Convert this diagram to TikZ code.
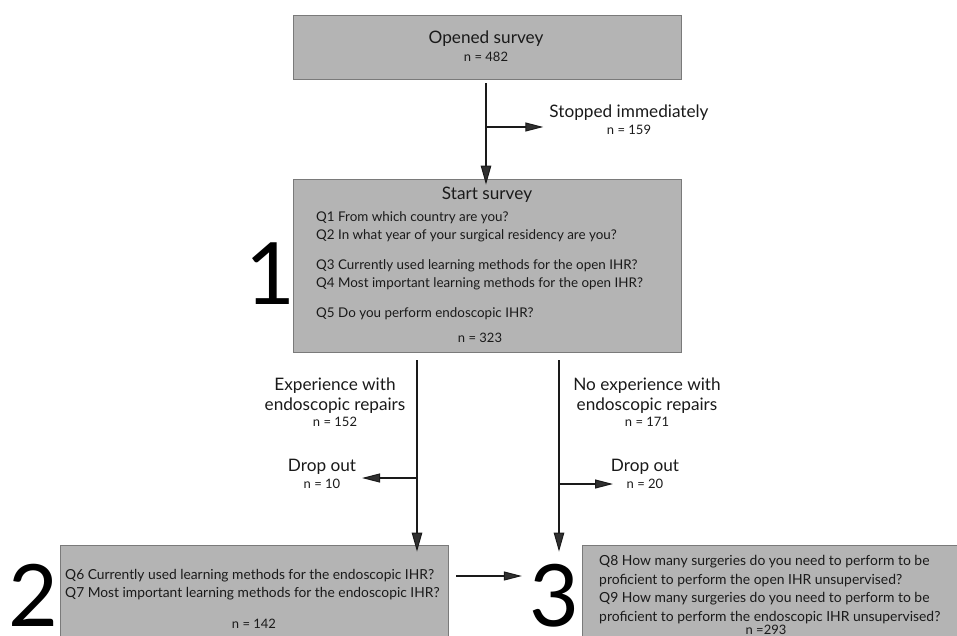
\documentclass[tikz,border=0pt]{standalone}
\usepackage{fontspec}
\setmainfont{Lato}
\usetikzlibrary{arrows.meta,calc}
\definecolor{boxgray}{HTML}{B4B4B4}
\definecolor{boxedge}{HTML}{7A7A7A}
\definecolor{inkc}{HTML}{1A1A1A}
\definecolor{headc}{HTML}{303030}
\tikzset{
  box/.style={draw=boxedge,fill=boxgray,line width=0.8pt,inner sep=0pt},
  arr/.style={draw=inkc,line width=2pt,-{Triangle[length=19pt,width=10.5pt,fill=headc,line width=1pt]}},
  sarr/.style={draw=inkc,line width=1.8pt,-{Triangle[length=18pt,width=9pt,fill=headc,line width=1pt]}},
  ttl/.style={font=\fontsize{17.2}{20}\selectfont,inner sep=0pt,text=inkc},
  num/.style={font=\fontsize{13}{15}\selectfont,inner sep=0pt,text=inkc},
  qtxt/.style={font=\fontsize{13.4}{18.5}\selectfont,inner sep=0pt,text=inkc,align=left,anchor=north west},
  big/.style={font=\fontsize{86}{86}\selectfont,inner sep=0pt,text=black,text depth=0pt},
}
\begin{document}
\begin{tikzpicture}[x=1pt,y=-1pt]
\useasboundingbox (0,0) rectangle (957,636);
\clip (0,0) rectangle (957,636);
% boxes
\node[box,minimum width=388pt,minimum height=64pt] (opened) at (487,47) {};
\node[box,minimum width=388pt,minimum height=173pt] (start) at (487,265.5) {};
\node[box,minimum width=388pt,minimum height=95pt] (b2) at (254,592.5) {};
\node[box,minimum width=380pt,minimum height=95pt] (b3) at (772,592.5) {};
% box texts
\node[ttl] (t1) at (486,39) {Opened survey};
\node[num] (n1) at (486,57) {n = 482};
\node[ttl] (t2) at (487,195) {Start survey};
\node[qtxt] (q1) at (316,211) {Q1 From which country are you?\\Q2 In what year of your surgical residency are you?};
\node[qtxt] (q3) at (316,259) {Q3 Currently used learning methods for the open IHR?\\Q4 Most important learning methods for the open IHR?};
\node[qtxt] (q5) at (316,307) {Q5 Do you perform endoscopic IHR?};
\node[num] (n2) at (480,338) {n = 323};
\node[qtxt,font=\fontsize{13.8}{18}\selectfont] (q6) at (65,569) {Q6 Currently used learning methods for the endoscopic IHR?\\Q7 Most important learning methods for the endoscopic IHR?};
\node[num] (n4) at (254,624) {n = 142};
\node[qtxt,font=\fontsize{13.9}{18.7}\selectfont] (q8) at (599,555) {Q8 How many surgeries do you need to perform to be\\proficient to perform the open IHR unsupervised?\\Q9 How many surgeries do you need to perform to be\\proficient to perform the endoscopic IHR unsupervised?};
\node[num] (n5) at (766,630) {n =293};
% big numbers
\node[big] (one) at (270,274) {1};
\node[big] (two) at (33,595) {2};
\node[big] (three) at (554,595) {3};
% side labels
\node[ttl] (stop) at (629,113) {Stopped immediately};
\node[num] (stopn) at (629,130) {n = 159};
\node[ttl,align=center,font=\fontsize{17.2}{20}\selectfont] (exp) at (335,396) {Experience with\\endoscopic repairs};
\node[num] (expn) at (335,422) {n = 152};
\node[ttl,align=center,font=\fontsize{17.2}{20}\selectfont] (noexp) at (647,396) {No experience with\\endoscopic repairs};
\node[num] (noexpn) at (647,422) {n = 171};
\node[ttl] (do1) at (322,467) {Drop out};
\node[num] (do1n) at (322,484) {n = 10};
\node[ttl] (do2) at (645,467) {Drop out};
\node[num] (do2n) at (645,484) {n = 20};
% connectors
\coordinate (a1br) at (486,127);
\draw[arr] (opened.south -| a1br) ++(0,4) -- ([yshift=-6pt]start.north -| a1br);
\draw[sarr] (a1br) -- ([xshift=-6pt]stop.west |- a1br);
\coordinate (lbr) at (417,478);
\draw[arr] (start.south -| lbr) ++(0,8) -- ([yshift=-7pt]b2.north -| lbr);
\draw[sarr] (lbr) -- (362,478);
\coordinate (rbr) at (559,484);
\draw[arr] (start.south -| rbr) ++(0,8) -- ([yshift=-7pt]b3.north -| rbr);
\draw[sarr] (rbr) -- (613,484);
\draw[sarr] ([xshift=8pt]b2.east |- 0,576) -- ([xshift=-7pt]three.west |- 0,576);
\end{tikzpicture}
\end{document}
